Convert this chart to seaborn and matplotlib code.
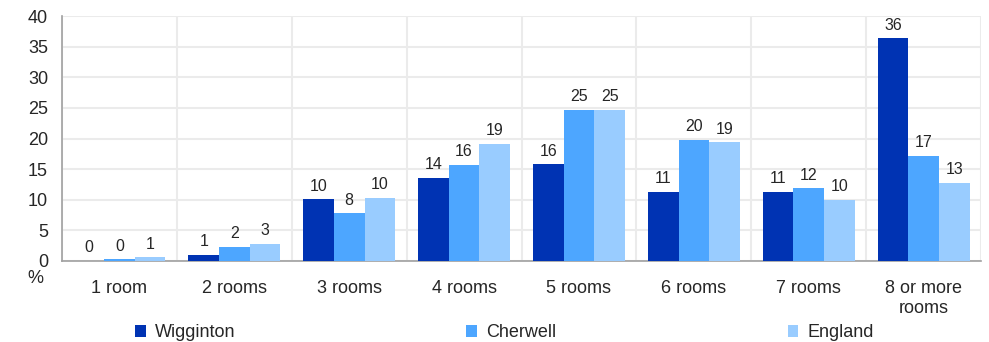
import pandas as pd
import numpy as np
import matplotlib.pyplot as plt
import seaborn as sns
from matplotlib.patches import Patch

# Chart data (percent of households by number of rooms)
rooms = ["1 room", "2 rooms", "3 rooms", "4 rooms", "5 rooms",
         "6 rooms", "7 rooms", "8 or more\nrooms"]
wigginton = [0.0, 1.0, 10.1, 13.6, 15.8, 11.3, 11.3, 36.4]
cherwell = [0.3, 2.3, 7.8, 15.7, 24.7, 19.8, 11.9, 17.2]
england = [0.6, 2.8, 10.3, 19.1, 24.7, 19.4, 10.0, 12.8]
areas = ["Wigginton", "Cherwell", "England"]
colors = ["#0033b3", "#4da6ff", "#99ccff"]

# Long format table for seaborn
df = pd.DataFrame({
    "Rooms": rooms * 3,
    "Area": np.repeat(areas, len(rooms)),
    "Pct": wigginton + cherwell + england,
})

sns.set_style("white")
plt.rcParams["font.family"] = ["Liberation Sans", "DejaVu Sans"]

fig = plt.figure(figsize=(9.89, 3.42), dpi=100)
ax = fig.add_axes([0.0627, 0.237, 0.9293, 0.716])

sns.barplot(data=df, x="Rooms", y="Pct", hue="Area", order=rooms,
            hue_order=areas, palette=colors, width=0.8, saturation=1,
            errorbar=None, legend=False, ax=ax, zorder=3, linewidth=0)

for cont in ax.containers:
    ax.bar_label(cont, fmt="%.0f", padding=4, fontsize=11.5)

ax.set_ylim(0, 40)
ax.set_xlim(-0.5, len(rooms) - 0.5)
ax.set_yticks(range(0, 41, 5))
ax.set_xticks(np.arange(-0.5, len(rooms)), minor=True)
ax.set_xlabel("")
ax.set_ylabel("")

# Grid and axes styling
ax.grid(axis="y", color="#ebebeb", linewidth=1.5, zorder=0)
ax.grid(axis="x", which="minor", color="#ebebeb", linewidth=1.5, zorder=0)
for s in ["top", "right"]:
    ax.spines[s].set_visible(False)
for s in ["left", "bottom"]:
    ax.spines[s].set_color("#a0a0a0")
    ax.spines[s].set_linewidth(1.2)
ax.tick_params(axis="x", which="major", length=0, pad=14, labelsize=13)
ax.tick_params(axis="x", which="minor", length=5, color="#a0a0a0", width=1.2)
ax.tick_params(axis="y", length=4, color="#a0a0a0", width=1.2, labelsize=13, pad=6)

fig.text(0.036, 0.185, "%", fontsize=13, ha="center", va="center")

handles = [Patch(facecolor=c, edgecolor="none") for c in colors]
fig.legend(handles, areas, loc="lower center", ncol=3, frameon=False,
           fontsize=13, bbox_to_anchor=(0.51, -0.045), handlelength=0.6,
           handleheight=0.6, handletextpad=0.5, columnspacing=12.8)

fig.savefig("out.png", dpi=100)
